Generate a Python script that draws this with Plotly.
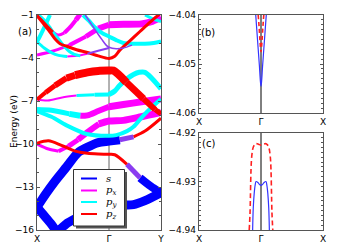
import plotly.graph_objects as go

W, H = 339, 252

# ---------------- panel (a): fat-band structure ----------------
kpath_ticks = [0.0, 1.0, 1.722]
kpath_labels = ["X", "Γ", "Y"]
e_ticks = [-16, -13, -10, -7, -4, -1]

# each band: k (path coordinate), E (eV), dominant orbital per point, weight (line width) per point
b01_k = [0, 0.08, 0.16, 0.22, 0.30, 0.38, 0.46, 0.54, 0.60]
b01_E = [-1.05, -1.45, -1.9, -2.2, -2.4, -2.25, -1.85, -1.35, -0.95]
b01_o = ["z", "z", "z", "x", "x", "x", "x", "x", "x"]
b01_w = [3, 3, 3, 3, 3, 4, 4, 5, 5]

b02_k = [0, 0.08, 0.16, 0.24, 0.32, 0.42, 0.55, 0.7, 0.85, 1.0, 1.08, 1.15, 1.29, 1.43, 1.57, 1.722]
b02_E = [-1.05, -1.55, -2.05, -2.6, -3.0, -3.2, -3.42, -3.62, -3.85, -4.03, -3.88, -3.45, -2.8, -2.15, -1.5, -0.85]
b02_o = ["z"] * 16
b02_w = [3] * 16

b03_k = [0, 0.06, 0.12, 0.18]
b03_E = [-2.87, -2.3, -1.65, -1.0]
b03_o = ["y"] * 4
b03_w = [4] * 4

b04_k = [0.0, 0.1, 0.17, 0.24, 0.31, 0.38, 0.45, 0.52, 0.6]
b04_E = [-0.9, -1.35, -1.8, -2.3, -2.74, -3.2, -3.55, -3.75, -3.85]
b04_o = ["y"] * 9
b04_w = [3] * 9

b05_k = [0, 0.1, 0.2, 0.3, 0.42, 0.55, 0.7, 0.85, 1.0]
b05_E = [-2.87, -3.3, -3.62, -3.82, -3.9, -3.85, -3.7, -3.5, -3.3]
b05_o = ["y", "y", "y", "y", "x", "x", "m", "m", "m"]
b05_w = [3, 3, 3, 3, 2, 2, 2, 2, 2]

b06_k = [0, 0.2, 0.45, 0.68, 0.85, 1.0, 1.2, 1.45, 1.6, 1.722]
b06_E = [-3.79, -3.55, -3.1, -2.5, -1.95, -1.68, -1.65, -1.62, -1.45, -1.15]
b06_o = ["x"] * 10
b06_w = [3, 3, 4, 5, 6, 7, 7, 7, 7, 7]

b07_k = [0.67, 0.75, 0.83, 0.9, 0.96, 1.0, 1.1, 1.2, 1.32]
b07_E = [-1.0, -1.6, -2.2, -2.7, -3.1, -3.25, -3.35, -3.3, -3.1]
b07_o = ["m"] * 9
b07_w = [1.5] * 9

b08_k = [0.64, 0.72, 0.8, 0.9, 1.0, 1.1, 1.2, 1.33, 1.5, 1.62, 1.722]
b08_E = [-1.0, -1.4, -1.85, -2.25, -2.5, -2.75, -2.95, -3.0, -3.0, -2.95, -2.85]
b08_o = ["y"] * 11
b08_w = [4] * 11

b09_k = [1.5, 1.6, 1.722]
b09_E = [-1.0, -1.25, -1.45]
b09_o = ["y"] * 3
b09_w = [3] * 3

b10_k = [0, 0.12, 0.25, 0.41, 0.53, 0.7, 0.85, 1.0, 1.06, 1.24, 1.48, 1.64, 1.722]
b10_E = [-6.9, -6.4, -5.92, -5.4, -5.2, -5.0, -4.9, -4.88, -4.88, -5.69, -6.85, -7.6, -7.9]
b10_o = ["z"] * 13
b10_w = [4, 5, 6, 7, 8, 8, 8, 8, 8, 7, 6, 5, 5]

b11_k = [0, 0.15, 0.35, 0.55, 0.8, 1.0, 1.08, 1.15, 1.25, 1.34, 1.42, 1.5, 1.6, 1.722]
b11_E = [-6.9, -6.97, -6.75, -6.62, -6.57, -6.55, -6.3, -5.9, -5.45, -5.15, -5.0, -5.0, -5.45, -6.15]
b11_o = ["x", "x", "x"] + ["y"] * 11
b11_w = [2, 2, 2, 3, 4] + [5] * 9

b12_k = [0, 0.2, 0.45, 0.6, 0.7, 0.85, 1.0, 1.2, 1.45, 1.722]
b12_E = [-7.6, -7.65, -7.9, -8.03, -8.0, -7.7, -7.4, -7.25, -7.05, -6.85]
b12_o = ["y", "y", "y"] + ["x"] * 7
b12_w = [5, 5, 6, 6, 6, 6, 7, 7, 7, 7]

b13_k = [0, 0.16, 0.3, 0.44, 0.57, 0.72, 0.86, 1.0, 1.2, 1.45, 1.722]
b13_E = [-10.0, -10.35, -10.5, -10.15, -9.7, -9.1, -8.6, -8.4, -8.35, -8.1, -7.8]
b13_o = ["x"] * 11
b13_w = [3, 3, 4, 5, 6, 6, 7, 7, 7, 7, 7]

b14_k = [0, 0.2, 0.41, 0.69, 1.0, 1.1, 1.25, 1.34, 1.48, 1.6, 1.722]
b14_E = [-7.7, -8.1, -8.7, -9.3, -9.43, -9.38, -9.1, -8.8, -8.0, -7.4, -6.86]
b14_o = ["y"] * 11
b14_w = [4] * 11

b15_k = [0, 0.16, 0.34, 0.53, 0.7, 0.85, 1.0, 1.08, 1.25, 1.43, 1.58, 1.722]
b15_E = [-9.95, -9.78, -10.1, -10.5, -10.65, -10.7, -10.72, -10.75, -11.42, -12.36, -12.95, -13.4]
b15_o = ["z"] * 8 + ["m", "s", "s", "s"]
b15_w = [3] * 8 + [5, 8, 8, 8]

b16_k = [0, 0.12, 0.25, 0.41, 0.57, 0.69, 0.85, 1.0, 1.15, 1.34, 1.5, 1.722]
b16_E = [-14.4, -13.5, -12.6, -11.6, -10.6, -10.25, -9.9, -9.8, -9.7, -9.5, -9.1, -8.2]
b16_o = ["s"] * 8 + ["m", "z", "z", "z"]
b16_w = [9] * 8 + [5, 3, 3, 3]

b17_k = [0, 0.1, 0.2, 0.27]
b17_E = [-14.4, -15.0, -15.6, -16.1]
b17_o = ["s"] * 4
b17_w = [9] * 4

b18_k = [0.25, 0.4, 0.55, 0.75, 1.0, 1.15, 1.34, 1.5, 1.722]
b18_E = [-16.3, -15.6, -15.17, -14.7, -14.35, -14.25, -14.23, -13.95, -13.4]
b18_o = ["s"] * 9
b18_w = [9] * 9

bands = [
    (b01_k, b01_E, b01_o, b01_w), (b02_k, b02_E, b02_o, b02_w), (b03_k, b03_E, b03_o, b03_w),
    (b04_k, b04_E, b04_o, b04_w), (b05_k, b05_E, b05_o, b05_w), (b06_k, b06_E, b06_o, b06_w),
    (b07_k, b07_E, b07_o, b07_w), (b08_k, b08_E, b08_o, b08_w), (b09_k, b09_E, b09_o, b09_w),
    (b10_k, b10_E, b10_o, b10_w), (b11_k, b11_E, b11_o, b11_w), (b12_k, b12_E, b12_o, b12_w),
    (b13_k, b13_E, b13_o, b13_w), (b14_k, b14_E, b14_o, b14_w), (b15_k, b15_E, b15_o, b15_w),
    (b16_k, b16_E, b16_o, b16_w), (b17_k, b17_E, b17_o, b17_w), (b18_k, b18_E, b18_o, b18_w),
]

legend_labels = ["<i>s</i>", "<i>p</i><sub><i>x</i></sub>", "<i>p</i><sub><i>y</i></sub>", "<i>p</i><sub><i>z</i></sub>"]

# ---------------- panels (b), (c): zoom near Γ ----------------
zk_ticks = [-1, 0, 1]
zk_labels = ["X", "Γ", "X"]

b_blue_k = [-0.085, -0.065, -0.045, -0.025, -0.01, 0, 0.01, 0.025, 0.045, 0.065, 0.085]
b_blue_E = [-4.040, -4.0435, -4.047, -4.0505, -4.0535, -4.0545, -4.0535, -4.0505, -4.047, -4.0435, -4.040]
b_red_k = [-0.045, -0.03, -0.015, 0, 0.015, 0.03, 0.045]
b_red_E = [-4.040, -4.0425, -4.0455, -4.0475, -4.0455, -4.0425, -4.040]
b_ticks = [-4.06, -4.05, -4.04]

c_red_k = [-0.19, -0.177, -0.15, -0.124, -0.1, -0.08, -0.04, 0, 0.04, 0.08, 0.1, 0.124, 0.15, 0.177, 0.19]
c_red_E = [-4.940, -4.9365, -4.9249, -4.9229, -4.9224, -4.9222, -4.9223, -4.9225,
           -4.9223, -4.9222, -4.9224, -4.9229, -4.9249, -4.9365, -4.940]
c_blue_k = [-0.135, -0.125, -0.11, -0.095, -0.08, -0.05, -0.025, 0, 0.025, 0.05, 0.08, 0.095, 0.11, 0.125, 0.135]
c_blue_E = [-4.940, -4.9355, -4.9325, -4.9308, -4.9300, -4.9302, -4.9306, -4.9308,
            -4.9306, -4.9302, -4.9300, -4.9308, -4.9325, -4.9355, -4.940]
c_ticks = [-4.94, -4.93, -4.92]

# ---------------- styling ----------------
COL = {"s": "#0000ff", "x": "#ff00ff", "y": "#00ffff", "z": "#ff0000", "m": "#8a3cf0"}
ORDER = {"s": 0, "x": 1, "y": 2, "z": 3, "m": 4}
AX_COL = "#555555"
FONT = "DejaVu Sans"


def px2x(px):
    return px / W


def py2y(py):
    return 1 - py / H


fig = go.Figure()

segments = []
for k, E, o, w in bands:
    start = 0
    n = len(k)
    for i in range(1, n):
        if i == n - 1 or o[i] != o[start] or w[i] != w[start]:
            segments.append((o[start], w[start], k[start:i + 1], E[start:i + 1]))
            start = i
segments.sort(key=lambda s: ORDER[s[0]])
for o, w, kk, ee in segments:
    fig.add_trace(go.Scatter(x=kk, y=ee, mode="lines", xaxis="x", yaxis="y",
                             line=dict(color=COL[o], width=w, shape="spline", smoothing=0.8),
                             showlegend=False, hoverinfo="skip"))

# panel (b)
fig.add_trace(go.Scatter(x=b_blue_k, y=b_blue_E, mode="lines", xaxis="x2", yaxis="y2",
                         line=dict(color="#3333ff", width=1.2, shape="spline"), showlegend=False))
fig.add_trace(go.Scatter(x=b_red_k, y=b_red_E, mode="lines", xaxis="x2", yaxis="y2",
                         line=dict(color="#ff2020", width=1.6, dash="4px,3px", shape="spline"), showlegend=False))
# panel (c)
fig.add_trace(go.Scatter(x=c_blue_k, y=c_blue_E, mode="lines", xaxis="x3", yaxis="y3",
                         line=dict(color="#3333ff", width=1.2, shape="spline"), showlegend=False))
fig.add_trace(go.Scatter(x=c_red_k, y=c_red_E, mode="lines", xaxis="x3", yaxis="y3",
                         line=dict(color="#ff2020", width=1.6, dash="5px,3px", shape="spline"), showlegend=False))

ax_common = dict(showgrid=False, zeroline=False, showline=True, linecolor=AX_COL, linewidth=1.2,
                 mirror="allticks", ticks="inside", ticklen=3, tickcolor=AX_COL,
                 tickfont=dict(family=FONT, size=9, color="black"), automargin=False)

a_dom_x = [px2x(37), px2x(161)]
a_dom_y = [py2y(230), py2y(15)]
b_dom_x = [px2x(199), px2x(323)]
b_dom_y = [py2y(113), py2y(15)]
c_dom_y = [py2y(230), py2y(133)]

fig.update_layout(
    width=W, height=H, margin=dict(l=0, r=0, t=0, b=0),
    paper_bgcolor="white", plot_bgcolor="white", template="none", showlegend=False,
    xaxis=dict(ax_common, domain=a_dom_x, range=[0, kpath_ticks[-1]], tickvals=kpath_ticks,
               ticktext=kpath_labels, anchor="y", ticklen=0),
    yaxis=dict(ax_common, domain=a_dom_y, range=[-16, -1], tickvals=e_ticks, anchor="x",
               minor=dict(dtick=1, tick0=-16, ticks="inside", ticklen=2, tickcolor=AX_COL)),
    xaxis2=dict(ax_common, domain=b_dom_x, range=[-1, 1], tickvals=zk_ticks, ticktext=zk_labels,
                anchor="y2", ticklen=0),
    yaxis2=dict(ax_common, domain=b_dom_y, range=[-4.06, -4.04], tickvals=b_ticks, anchor="x2",
                tickformat=".2f", minor=dict(dtick=0.001, ticks="inside", ticklen=2, tickcolor=AX_COL)),
    xaxis3=dict(ax_common, domain=b_dom_x, range=[-1, 1], tickvals=zk_ticks, ticktext=zk_labels,
                anchor="y3", ticklen=0),
    yaxis3=dict(ax_common, domain=c_dom_y, range=[-4.94, -4.92], tickvals=c_ticks, anchor="x3",
                tickformat=".2f", minor=dict(dtick=0.001, ticks="inside", ticklen=2, tickcolor=AX_COL)),
)

shapes = []
shapes.append(dict(type="line", xref="x", yref="y domain", x0=1, x1=1, y0=0, y1=1,
                   line=dict(color="#999999", width=1.5), layer="below"))
shapes.append(dict(type="line", xref="x2", yref="y2 domain", x0=0, x1=0, y0=0, y1=1,
                   line=dict(color="black", width=1), layer="below"))
shapes.append(dict(type="line", xref="x3", yref="y3 domain", x0=0, x1=0, y0=0, y1=1,
                   line=dict(color="black", width=1), layer="below"))

# legend box (manual, matplotlib-like with shadow)
lx0, ly0, lx1, ly1 = 73.5, 169.5, 124.5, 226
shapes.append(dict(type="rect", xref="paper", yref="paper", x0=px2x(lx0 + 2.5), x1=px2x(lx1 + 2.5),
                   y0=py2y(ly1 + 2.5), y1=py2y(ly0 + 2.5), fillcolor="#555555", line=dict(width=0)))
shapes.append(dict(type="rect", xref="paper", yref="paper", x0=px2x(lx0), x1=px2x(lx1),
                   y0=py2y(ly1), y1=py2y(ly0), fillcolor="white", line=dict(color="#333333", width=1)))
row_y = [178.5, 190.5, 202, 214]
leg_cols = [COL["s"], COL["x"], COL["y"], COL["z"]]
annotations = []
for ry, c, lab in zip(row_y, leg_cols, legend_labels):
    shapes.append(dict(type="line", xref="paper", yref="paper", x0=px2x(81), x1=px2x(97),
                       y0=py2y(ry), y1=py2y(ry), line=dict(color=c, width=2)))
    annotations.append(dict(xref="paper", yref="paper", x=px2x(104), y=py2y(ry), text=lab,
                            showarrow=False, xanchor="left", yanchor="middle",
                            font=dict(family="DejaVu Serif", size=10, color="black")))

annotations += [
    dict(xref="paper", yref="paper", x=px2x(16), y=py2y(24), text="(a)", showarrow=False,
         font=dict(family=FONT, size=10, color="black")),
    dict(xref="paper", yref="paper", x=px2x(208), y=py2y(25), text="(b)", showarrow=False,
         font=dict(family=FONT, size=10, color="black")),
    dict(xref="paper", yref="paper", x=px2x(208), y=py2y(143), text="(c)", showarrow=False,
         font=dict(family=FONT, size=10, color="black")),
    dict(xref="paper", yref="paper", x=px2x(7), y=py2y(122), text="Energy (eV)", showarrow=False,
         textangle=-90, font=dict(family=FONT, size=9, color="black")),
]

fig.update_layout(shapes=shapes, annotations=annotations)
fig.write_html("out.html", config={"displayModeBar": False, "staticPlot": True},
               post_script="document.body.style.margin='0px';document.body.style.overflow='hidden';")
